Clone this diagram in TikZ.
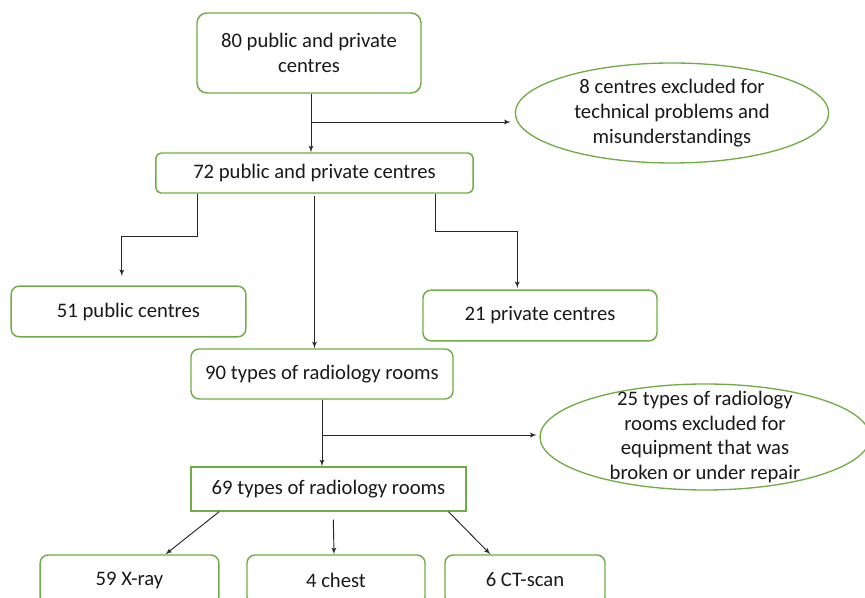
\documentclass[tikz,border=0pt]{standalone}
\usepackage{fontspec}
\setmainfont{Carlito}
\usetikzlibrary{shapes,arrows}
\definecolor{boxgreen}{RGB}{112,173,71}
\tikzstyle{block} = [rectangle, draw=boxgreen, line width=1.1pt, text=black!90,
    align=center, rounded corners=6pt, inner sep=0pt]
\tikzstyle{excl} = [ellipse, draw=boxgreen, line width=1pt, text=black!90,
    align=center, inner sep=0pt]
\tikzstyle{line} = [draw, black!85, line width=0.7pt, -latex']

\begin{document}
\begin{tikzpicture}[x=0.75pt, y=-0.75pt, font=\fontsize{15.5}{18.6}\selectfont]
    \useasboundingbox (0,0) rectangle (865,598);
    \clip (0,0) rectangle (865,598);
    % centres
    \node [block, minimum width=168pt, minimum height=60pt, rounded corners=7.5pt] (c80) at (309,53) {80 public and private\\centres};
    \node [excl, minimum width=235pt, minimum height=75pt] (ex1) at (672,113) {8 centres excluded for\\technical problems and\\misunderstandings};
    \node [block, minimum width=238pt, minimum height=30pt, rounded corners=4pt] (c72) at (314.5,173) {72 public and private centres};
    \node [block, minimum width=176pt, minimum height=38pt] (pub) at (128.5,311.5) {51 public centres};
    \node [block, minimum width=175.5pt, minimum height=38pt] (priv) at (540,315.5) {21 private centres};
    % rooms
    \node [block, minimum width=196.5pt, minimum height=37.5pt] (r90) at (322,374) {90 types of radiology rooms};
    \node [excl, minimum width=247.5pt, minimum height=79.5pt, inner ysep=-7pt] (ex2) at (705,437) {25 types of radiology\\rooms excluded for\\equipment that was\\broken or under repair};
    \node [block, minimum width=206pt, minimum height=33pt, sharp corners] (r69) at (328.5,489) {69 types of radiology rooms};
    \node [block, minimum width=134pt, minimum height=37.5pt] (xray) at (129.5,580) {59 X-ray};
    \node [block, minimum width=133.5pt, minimum height=37.5pt] (chest) at (336,580) {4 chest};
    \node [block, minimum width=120pt, minimum height=37.5pt] (ct) at (525,580) {6 CT-scan};
    \coordinate (b1) at (311,122);
    \coordinate (b2) at (322,435);
    % connectors
    \path [line] ([xshift=1.5pt]c80.south) -- ([xshift=1.5pt]c80.south |- c72.north);
    \path [line, shorten >=3pt] (b1) -- (b1 -| ex1.west);
    \path [line, shorten >=7pt] ([xshift=-88pt]c72.south) -- ++(0,43) -| ([xshift=-5pt]pub.north);
    \path [line, shorten <=2pt] (c72.south) -- (c72.south |- r90.north);
    \path [line, shorten >=1pt] ([xshift=90.4pt]c72.south) -- ++(0,38) -| ([xshift=-17pt]priv.north);
    \path [line] (r90.south) -- (r90.south |- r69.north);
    \path [line, shorten >=2pt] (b2) -- (b2 -| ex2.west);
    \path [line] ([xshift=-82pt]r69.south) -- ([xshift=27pt]xray.north);
    \path [line, shorten <=6pt] ([xshift=3.5pt]r69.south) -- ([xshift=-1.5pt]chest.north);
    \path [line] ([xshift=90pt]r69.south) -- ([xshift=-26pt]ct.north);
\end{tikzpicture}
\end{document}
